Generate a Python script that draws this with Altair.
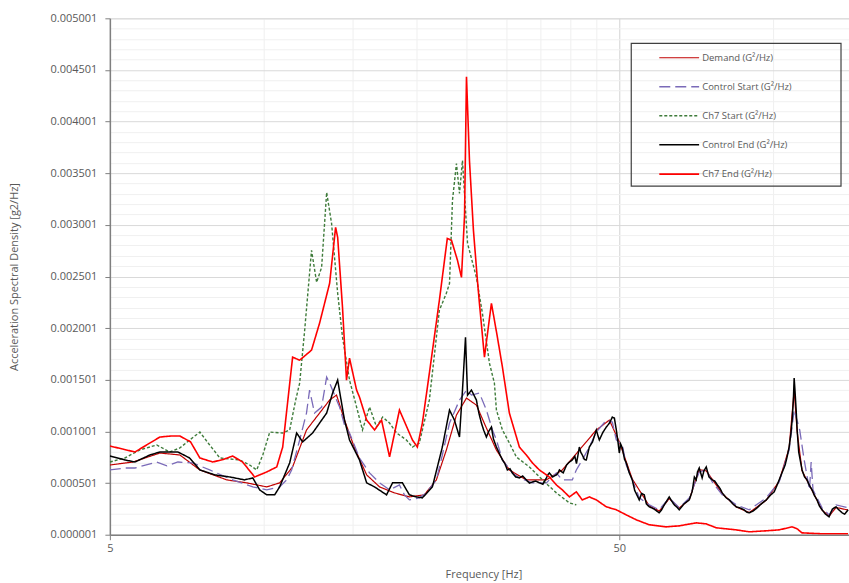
import altair as alt
import pandas as pd

# ---- series names (legend order) ----
names = ["Demand (G²/Hz)", "Control Start (G²/Hz)", "Ch7 Start (G²/Hz)",
         "Control End (G²/Hz)", "Ch7 End (G²/Hz)"]

# values are in 1e-6 g²/Hz
demand_f = [5.0, 5.55, 6.27, 6.86, 7.51, 8.48, 9.28, 10.16, 10.77, 11.42, 12.16, 12.90, 13.50, 13.93,
            14.44, 15.11, 15.96, 16.92, 18.10, 19.36, 20.71, 21.87, 22.88, 23.95, 25.06, 26.21, 27.42,
            28.69, 30.42, 32.85, 35.96, 38.65, 41.74, 45.07, 47.8, 50.0, 53.02, 57.25, 59.88, 62.66,
            65.55, 68.59, 71.76, 74.06, 79.62, 84.83, 89.95, 97.13, 102.98, 107.72, 110.2, 111.7, 114.2,
            119.5, 125.0, 129.0, 133.2, 140.6]
demand_v = [676, 705, 792, 773, 628, 532, 503, 464, 503, 657, 1015, 1179, 1305, 1353,
            1111, 841, 580, 464, 406, 367, 387, 532, 821, 1160, 1324, 1256, 1034,
            821, 628, 532, 532, 628, 821, 1015, 1111, 900, 540, 280, 230, 350,
            260, 340, 630, 620, 400, 270, 215, 335, 520, 840, 1400, 1000, 620,
            430, 240, 180, 265, 240]

cstart_f = [5.0, 5.35, 5.60, 6.18, 6.47, 6.80, 7.27, 7.85, 8.71, 9.54, 10.16, 10.77, 11.12, 11.37,
            11.79, 12.16, 12.33, 12.61, 13.02, 13.32, 13.50, 14.12, 14.44, 14.77, 15.45, 16.17, 16.92,
            17.70, 18.51, 18.93, 19.36, 20.25, 20.90, 21.87, 22.47, 23.21, 24.28, 25.06, 25.63, 26.57,
            27.42, 28.18, 28.69, 29.48, 30.84, 31.83, 33.76, 35.96, 37.62, 38.65, 40.43, 41.17, 42.30,
            43.66, 45.07, 46.3, 47.15, 48.45, 49.33, 50.68, 51.60, 53.02, 54.72, 57.25, 59.88, 62.66,
            65.55, 68.59, 71.76, 74.06, 76.10, 79.62, 84.83, 89.95, 97.13, 102.98, 107.72, 110.2, 113.0,
            115.3, 118.1, 119.0, 120.0, 125.0, 129.0, 133.2, 140.6]
cstart_v = [628, 647, 647, 705, 667, 705, 696, 628, 532, 464, 435, 464, 532, 628,
            918, 1179, 1401, 1179, 1237, 1527, 1469, 1237, 1063, 986, 744, 599, 503,
            435, 483, 387, 338, 358, 406, 532, 773, 1082, 1305, 1401, 1353, 1372,
            1208, 1015, 918, 725, 599, 551, 503, 503, 599, 532, 532, 628, 725,
            850, 995, 1063, 1111, 1092, 918, 870, 676, 532, 358, 290, 242, 358,
            261, 358, 609, 628, 512, 387, 290, 242, 358, 512, 821, 1208, 1015,
            725, 435, 705, 435, 261, 193, 290, 261]

c7start_f = [5.0, 5.35, 5.72, 6.18, 6.55, 6.86, 7.17, 7.51, 7.85, 8.22, 8.99, 9.41, 9.71, 9.98,
             10.30, 10.92, 11.27, 11.58, 11.79, 12.06, 12.44, 12.73, 13.02, 13.32, 13.62, 14.00, 14.31,
             14.77, 15.25, 15.66, 16.17, 16.69, 17.15, 17.70, 18.27, 19.10, 19.63, 20.25, 20.53, 21.19,
             22.17, 22.88, 23.21, 23.52, 23.95, 24.28, 24.61, 25.18, 26.21, 26.93, 27.80, 28.43, 28.69,
             29.48, 30.42, 31.40, 33.30, 35.32, 37.62, 39.90, 41.17]
c7start_v = [705, 744, 821, 870, 802, 841, 918, 995, 870, 744, 725, 676, 628, 773,
             995, 986, 1015, 1305, 1469, 1981, 2754, 2445, 2590, 3315, 3015, 2339, 1913,
             1498, 1237, 1015, 1237, 1044, 1140, 1082, 986, 918, 850, 889, 1015, 1305,
             2174, 2339, 2435, 3237, 3595, 3305, 3624, 2822, 2493, 2145, 1662, 1469, 1208,
             1015, 889, 754, 657, 532, 406, 309, 290]

cend_f = [5.0, 5.35, 5.60, 5.99, 6.27, 6.80, 7.17, 7.51, 8.04, 8.60, 9.19, 9.54, 9.84, 10.16,
          10.53, 10.77, 11.27, 11.63, 11.95, 12.50, 13.32, 13.68, 14.00, 14.25, 14.44, 14.77, 15.11,
          15.45, 15.96, 16.54, 17.46, 17.94, 18.76, 19.36, 19.98, 20.53, 21.48, 22.47, 23.21, 23.73,
          24.28, 24.61, 24.95, 25.18, 25.63,
          26.21, 26.5, 26.81, 27.1, 27.42, 27.7, 28.05, 28.3, 28.69, 29.0, 29.48, 29.8, 30.15, 30.5,
          30.84, 31.3, 31.83, 32.3, 32.85, 33.3, 33.76, 34.3, 34.84, 35.4, 35.96, 36.2, 36.45, 37.0,
          37.62, 37.9, 38.14, 38.8, 39.4, 39.8, 40.43, 40.9, 41.2, 41.74, 42.0, 42.30, 42.7, 43.07,
          43.66, 44.3, 45.07, 45.4, 45.68, 46.4, 47.15, 47.8, 48.45, 48.9, 49.33, 49.7, 50.0, 50.3,
          50.68, 51.2, 51.60, 52.3, 53.02, 53.6, 54.72, 55.3, 55.97, 56.5, 57.25, 58.5, 59.88, 60.5,
          61.26, 62.0, 62.66, 63.3, 64.1, 64.8, 65.55, 67.0, 68.59, 69.5, 70.2, 70.79, 71.2, 71.76,
          72.7, 73.3, 74.06, 75.0, 76.10, 77.0, 77.9, 78.8, 79.62, 81.0, 82.2, 83.5, 84.83, 86.3,
          87.9, 88.9, 89.95, 91.5, 93.2, 95.0, 97.13, 98.8, 100.7, 101.8, 102.98, 104.3, 105.8, 106.8,
          107.72, 108.6, 109.2, 109.8, 110.2, 110.6, 111.2, 111.7, 112.5, 113.5, 114.2, 115.5, 116.8,
          118.0, 119.5, 120.8, 122.2, 123.5, 125.0, 127.0, 129.0, 131.0, 133.2, 135.0, 136.9, 138.5,
          140.6]
cend_v = [763, 725, 705, 773, 802, 802, 744, 628, 580, 560, 532, 551, 435, 387,
          387, 464, 696, 986, 899, 986, 1179, 1372, 1498, 1276, 1111, 918, 821,
          725, 503, 464, 387, 503, 503, 387, 367, 358, 464, 850, 1208, 1111,
          947, 1401, 1913, 1353, 1401,
          1305, 1180, 1082, 1010, 947, 1000, 1044, 930, 850, 800, 725, 690, 628, 640,
          599, 560, 551, 570, 532, 500, 512, 520, 503, 490, 551, 580, 599, 560,
          580, 600, 628, 600, 676, 700, 725, 760, 690, 850, 800, 773, 730, 725,
          850, 900, 1015, 960, 918, 990, 1044, 1080, 1140, 1130, 1015, 900, 792, 880,
          841, 730, 696, 600, 532, 430, 338, 400, 387, 300, 271, 250, 213, 240,
          290, 330, 367, 330, 290, 270, 242, 300, 338, 420, 560, 532, 610, 647,
          551, 620, 657, 560, 532, 520, 483, 450, 406, 360, 338, 300, 271, 260,
          242, 220, 213, 230, 261, 300, 338, 380, 416, 470, 532, 600, 676, 760,
          850, 980, 1111, 1300, 1517, 1400, 1208, 1015, 800, 700, 628, 560, 532,
          480, 435, 380, 338, 280, 242, 200, 174, 250, 271, 240, 213, 200,
          242]

c7end_f = [5.0, 5.30, 5.60, 5.95, 6.27, 6.60, 6.86, 7.20, 7.51, 7.96, 8.35, 8.71, 9.11, 9.62,
           10.16, 10.63, 10.92, 11.42, 11.79, 12.44, 12.90, 13.50, 13.87, 14.00, 14.31, 14.57, 14.77,
           15.25, 15.45, 15.96, 16.54, 17.07, 17.70, 18.51, 19.63, 20.07, 20.53, 21.19, 22.17, 22.98,
           23.42, 24.06, 24.50, 24.84, 25.06, 25.40, 25.86, 26.33, 26.57, 27.18, 28.05, 28.82, 29.48,
           30.15, 30.42, 31.83, 32.85, 33.76, 34.84, 36.45, 37.62, 38.65, 39.90, 41.17, 42.30, 43.66,
           45.07, 47.15, 49.33, 51.60, 53.99, 57.25, 61.82, 65.55, 70.79, 74.06, 77.48, 84.83, 89.95,
           97.13, 102.98, 109.2, 111.7, 114.2, 125.0, 140.6]
c7end_v = [860, 830, 802, 880, 947, 957, 957, 900, 744, 705, 730, 763, 705, 560,
           609, 657, 850, 1720, 1691, 1788, 2049, 2435, 2977, 2880, 2200, 1498, 1710,
           1401, 1334, 1111, 1015, 1111, 754, 1208, 918, 850, 1082, 1566, 2271, 2870,
           2851, 2658, 2493, 3092, 4436, 3624, 2948, 2464, 2242, 1720, 2242, 1913, 1624,
           1305, 1179, 850, 773, 696, 628, 560, 483, 435, 367, 416, 338, 367,
           338, 271, 242, 193, 145, 97, 77, 87, 116, 106, 68, 48, 29,
           39, 48, 77, 58, 19, 10, 10]

colors = ["#C00000", "#7A6AB8", "#3E7B3A", "#000000", "#FF0000"]
dashes = [[1, 0], [11, 5], [3, 2], [1, 0], [1, 0]]
widths = [1.2, 1.6, 1.4, 1.8, 1.8]

x_grid = [5, 10, 15, 20, 25, 30, 35, 40, 45, 50, 100]
y_grid = [round(0.000001 + 0.0001 * k, 6) for k in range(51)]

rows = []
for name, fs, vs in [(names[0], demand_f, demand_v), (names[1], cstart_f, cstart_v),
                     (names[2], c7start_f, c7start_v), (names[3], cend_f, cend_v),
                     (names[4], c7end_f, c7end_v)]:
    for f, v in zip(fs, vs):
        rows.append({"series": name, "freq": f, "psd": v * 1e-6})
df = pd.DataFrame(rows)

FONT = "Open Sans"
TXT = "#595959"

legend = alt.Legend(title=None, orient="none", legendX=555, legendY=25, direction="vertical",
                    symbolType="M-1.45,0H1.45", symbolSize=756, symbolStrokeWidth=1.5,
                    labelFont=FONT, labelFontSize=9.5, labelColor=TXT, labelOffset=8,
                    rowPadding=10, padding=0)

major_y = "abs(datum.value*2000 - 0.002 - round(datum.value*2000 - 0.002)) < 0.01"
major_x = "datum.value == 5 || datum.value == 50"

lines = alt.Chart(df).mark_line(clip=True).encode(
    x=alt.X("freq:Q",
            scale=alt.Scale(type="log", domain=[5, 141.2], nice=False),
            axis=alt.Axis(values=x_grid, title="Frequency [Hz]",
                          labelExpr="(datum.value == 5 || datum.value == 50) ? toString(datum.value) : ''",
                          labelOverlap=False, labelFlush=False,
                          gridColor={"condition": {"test": "datum.value == 50", "value": "#d4d4d4"}, "value": "#efefef"},
                          tickOpacity={"condition": {"test": major_x, "value": 1}, "value": 0},
                          tickSize=5, tickColor="#7f7f7f", labelPadding=3,
                          labelFont=FONT, labelFontSize=11, labelColor=TXT,
                          domainColor="#7f7f7f", domainWidth=1.5,
                          titleFont=FONT, titleFontSize=11, titleFontWeight="normal", titleColor=TXT,
                          titleX=374, titleY=40, titleBaseline="middle", titleAlign="center")),
    y=alt.Y("psd:Q",
            scale=alt.Scale(domain=[0.000001, 0.005001], nice=False, zero=False),
            axis=alt.Axis(values=y_grid, title="Acceleration Spectral Density [g2/Hz]",
                          labelExpr="(" + major_y + ") ? format(datum.value, '.6f') : ''",
                          labelOverlap=False, labelFlush=False,
                          gridColor={"condition": {"test": major_y, "value": "#d9d9d9"}, "value": "#f0f0f0"},
                          tickOpacity={"condition": {"test": major_y, "value": 1}, "value": 0},
                          tickSize=5, tickColor="#7f7f7f", labelPadding=8,
                          labelFont=FONT, labelFontSize=11, labelColor=TXT,
                          domainColor="#7f7f7f", domainWidth=1.5,
                          titleFont=FONT, titleFontSize=11, titleFontWeight="normal", titleColor=TXT,
                          titleX=-95, titleY=258.5, titleAngle=270, titleBaseline="middle",
                          titleAlign="center")),
    color=alt.Color("series:N", scale=alt.Scale(domain=names, range=colors), legend=legend),
    strokeDash=alt.StrokeDash("series:N", scale=alt.Scale(domain=names, range=dashes), legend=legend),
    strokeWidth=alt.StrokeWidth("series:N", scale=alt.Scale(domain=names, range=widths), legend=None),
)

frame = alt.Chart(alt.Data(values=[{"a": 1}])).mark_rect(
    filled=False, stroke="#404040", strokeWidth=1.2
).encode(x=alt.value(522), x2=alt.value(732), y=alt.value(25), y2=alt.value(168))

chart = alt.layer(lines, frame).properties(
    width=740, height=517, autosize="none",
    padding={"left": 110, "top": 18, "right": 0, "bottom": 48},
).configure_view(stroke="#7f7f7f", strokeWidth=1.5).configure(background="white")

chart.save("out.html", embed_options={"renderer": "svg", "actions": False})
